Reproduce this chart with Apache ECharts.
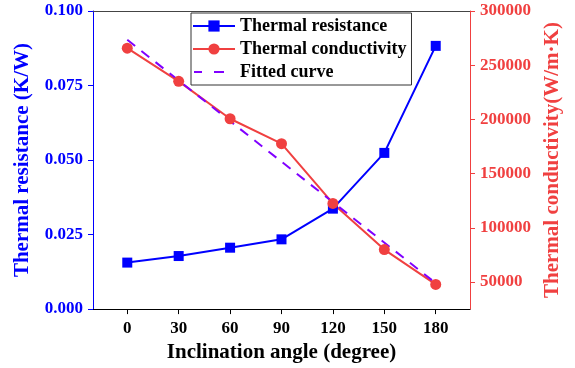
<!DOCTYPE html>
<html>
<head>
<meta charset="utf-8">
<script src="https://cdn.jsdelivr.net/npm/echarts@6/dist/echarts.min.js"></script>
<style>
  html, body { margin: 0; padding: 0; background: #fff; }
  #main { width: 575px; height: 368px; }
</style>
</head>
<body>
<div id="main"></div>
<script>
const angles = [0, 30, 60, 90, 120, 150, 180]
const resistance = [0.0156, 0.0178, 0.0206, 0.0234, 0.0337, 0.0524, 0.0883]
const conductivity = [265700, 235100, 200600, 177600, 122500, 79900, 47800]
const fitAngles = [0, 90, 180]
const fitValues = [273400, 161000, 49000]
const xTicks = [0, 30, 60, 90, 120, 150, 180]
const rightTicks = [50000, 100000, 150000, 200000, 250000, 300000]

const BLUE = '#0000FF'
const RED = '#F04040'
const PURPLE = '#8000FF'
const FONT = 'Liberation Serif'

const zip = (xs, ys) => xs.map((x, i) => [x, ys[i]])

const chart = echarts.init(document.getElementById('main'))

// dashed legend sample for the fitted curve (M points keep the 42x14 box)
const dashIcon = 'path://M0,0M42,14M1,6H9V8H1ZM21,6H31V8H21Z'

const option = {
  backgroundColor: '#fff',
  animation: false,
  grid: { left: 93, right: 105, top: 11, bottom: 58 },
  legend: {
    orient: 'vertical',
    left: 191,
    top: 13,
    padding: [4, 5, 4, 1],
    itemGap: 5,
    itemWidth: 42,
    itemHeight: 14,
    borderColor: '#333',
    borderWidth: 1,
    textStyle: { fontFamily: FONT, fontWeight: 'bold', fontSize: 18, color: '#000' },
    data: [
      'Thermal resistance',
      'Thermal conductivity',
      { name: 'Fitted curve', icon: dashIcon }
    ]
  },
  xAxis: [
    {
      type: 'value',
      min: -20,
      max: 200,
      name: 'Inclination angle (degree)',
      nameLocation: 'middle',
      nameGap: 32,
      nameTextStyle: { fontFamily: FONT, fontWeight: 'bold', fontSize: 21, color: '#000' },
      splitLine: { show: false },
      axisLine: { onZero: false, lineStyle: { color: '#000', width: 1 } },
      axisTick: { customValues: xTicks, length: 5, lineStyle: { color: '#000' } },
      axisLabel: {
        customValues: xTicks,
        margin: 11,
        fontFamily: FONT, fontWeight: 'bold', fontSize: 17, color: '#000'
      }
    },
    {
      type: 'value',
      position: 'top',
      min: -20,
      max: 200,
      splitLine: { show: false },
      axisLine: { show: true, onZero: false, lineStyle: { color: '#444', width: 1 } },
      axisTick: { show: false },
      axisLabel: { show: false }
    }
  ],
  yAxis: [
    {
      type: 'value',
      min: 0,
      max: 0.1,
      interval: 0.025,
      position: 'left',
      name: 'Thermal resistance (K/W)',
      nameLocation: 'middle',
      nameRotate: 90,
      nameGap: 60,
      nameTextStyle: { fontFamily: FONT, fontWeight: 'bold', fontSize: 21, color: BLUE },
      splitLine: { show: false },
      axisLine: { show: true, onZero: false, lineStyle: { color: BLUE, width: 1 } },
      axisTick: { show: true, length: 5, lineStyle: { color: BLUE } },
      axisLabel: {
        margin: 10,
        formatter: v => v.toFixed(3),
        fontFamily: FONT, fontWeight: 'bold', fontSize: 17, color: BLUE
      }
    },
    {
      type: 'value',
      min: 25000,
      max: 300000,
      position: 'right',
      name: 'Thermal conductivity(W/m\u00b7K)',
      nameLocation: 'middle',
      nameRotate: 90,
      nameGap: 72,
      nameTextStyle: { fontFamily: FONT, fontWeight: 'bold', fontSize: 21, color: RED },
      splitLine: { show: false },
      axisLine: { show: true, onZero: false, lineStyle: { color: RED, width: 1 } },
      axisTick: { show: true, customValues: rightTicks, length: 5, lineStyle: { color: RED } },
      axisLabel: {
        customValues: rightTicks,
        margin: 10,
        formatter: v => String(v),
        fontFamily: FONT, fontWeight: 'bold', fontSize: 17, color: RED
      }
    }
  ],
  series: [
    {
      name: 'Thermal resistance',
      type: 'line',
      yAxisIndex: 0,
      data: zip(angles, resistance),
      symbol: 'rect',
      symbolSize: 10,
      itemStyle: { color: BLUE },
      lineStyle: { color: BLUE, width: 2 }
    },
    {
      name: 'Thermal conductivity',
      type: 'line',
      yAxisIndex: 1,
      data: zip(angles, conductivity),
      symbol: 'circle',
      symbolSize: 11,
      itemStyle: { color: RED },
      lineStyle: { color: RED, width: 2 }
    },
    {
      name: 'Fitted curve',
      type: 'line',
      yAxisIndex: 1,
      data: zip(fitAngles, fitValues),
      symbol: 'none',
      itemStyle: { color: PURPLE },
      lineStyle: { color: PURPLE, width: 2, type: [10, 8] }
    }
  ]
}

chart.setOption(option)
</script>
</body>
</html>
